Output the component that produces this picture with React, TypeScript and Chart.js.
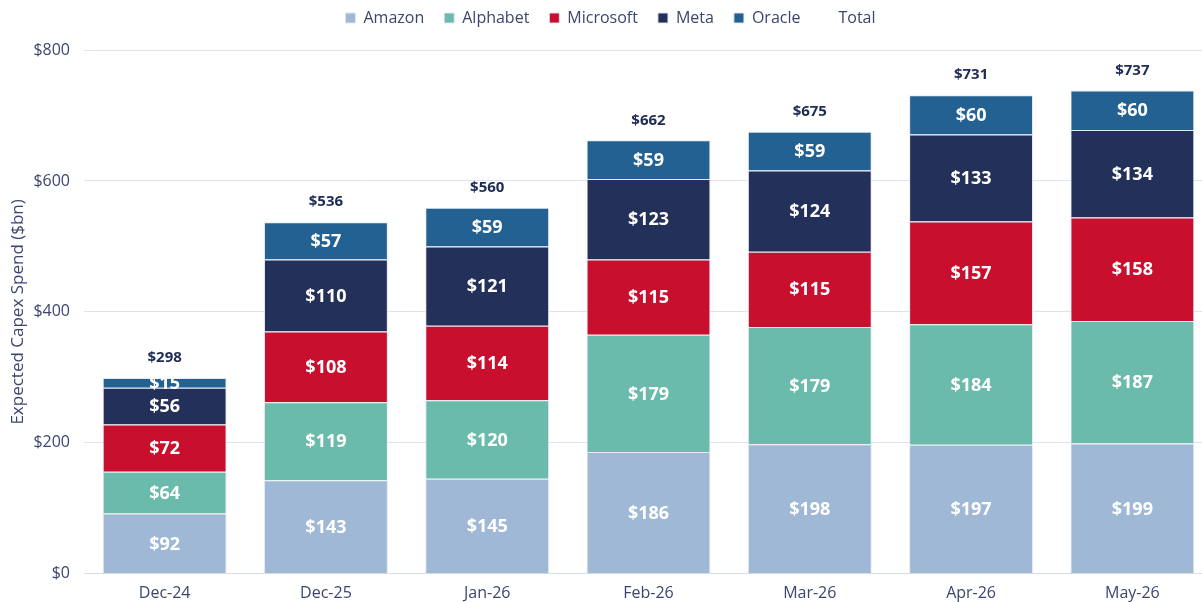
import React, { useEffect, useRef } from "react";
import { Chart, registerables } from "chart.js";

Chart.register(...registerables);

const categories = ["Dec-24", "Dec-25", "Jan-26", "Feb-26", "Mar-26", "Apr-26", "May-26"];
const amazon = [92, 143, 145, 186, 198, 197, 199];
const alphabet = [64, 119, 120, 179, 179, 184, 187];
const microsoft = [72, 108, 114, 115, 115, 157, 158];
const meta = [56, 110, 121, 123, 124, 133, 134];
const oracle = [15, 57, 59, 59, 59, 60, 60];
const totals = [298, 536, 560, 662, 675, 731, 737];
const yTicks = [0, 200, 400, 600, 800];

const FONT = "'Open Sans', sans-serif";
const TEXT = "#3b4670";

const labelPlugin = {
  id: "barLabels",
  afterDatasetsDraw(chart: any) {
    const ctx = chart.ctx;
    ctx.save();
    ctx.textAlign = "center";
    ctx.textBaseline = "middle";
    chart.data.datasets.forEach((ds: any, di: number) => {
      if (ds.label === "Total") return;
      const meta = chart.getDatasetMeta(di);
      meta.data.forEach((el: any, i: number) => {
        const v = ds.data[i];
        const y = (el.y + el.base) / 2;
        ctx.font = `bold 18px ${FONT}`;
        ctx.fillStyle = "#ffffff";
        ctx.fillText("$" + v, el.x, y + 1);
      });
    });
    const topIdx = chart.data.datasets.findIndex((d: any) => d.label === "Oracle");
    const topMeta = chart.getDatasetMeta(topIdx);
    const tIdx = chart.data.datasets.findIndex((d: any) => d.label === "Total");
    const tds = chart.data.datasets[tIdx];
    topMeta.data.forEach((el: any, i: number) => {
      ctx.font = `bold 15px ${FONT}`;
      ctx.fillStyle = "#1f2a55";
      ctx.fillText("$" + tds.data[i], el.x, el.y - 20);
    });
    ctx.restore();
  },
};

const legendMargin = {
  id: "legendMargin",
  beforeUpdate(chart: any) {
    const lg = chart.legend;
    if (lg && !lg._patched) {
      const orig = lg.fit;
      lg.fit = function () {
        orig.call(this);
        this.height += 14;
      };
      lg._patched = true;
    }
  },
};

export default function App() {
  const ref = useRef<HTMLCanvasElement | null>(null);
  useEffect(() => {
    document.body.style.margin = "0";
    const mk = (label: string, data: number[], color: string) => ({
      type: "bar" as const,
      label,
      data,
      backgroundColor: color,
      borderColor: "rgba(225,230,240,0.9)",
      borderWidth: 1,
      stack: "s",
      categoryPercentage: 0.768,
      barPercentage: 1,
    });
    const chart = new Chart(ref.current as HTMLCanvasElement, {
      type: "bar",
      data: {
        labels: categories,
        datasets: [
          mk("Amazon", amazon, "#9fb8d6"),
          mk("Alphabet", alphabet, "#6bbbad"),
          mk("Microsoft", microsoft, "#c8102e"),
          mk("Meta", meta, "#22305a"),
          mk("Oracle", oracle, "#236192"),
          {
            type: "line" as const,
            label: "Total",
            data: totals,
            showLine: false,
            pointRadius: 0,
            borderColor: "rgba(0,0,0,0)",
            backgroundColor: "rgba(0,0,0,0)",
            borderWidth: 0,
          } as any,
        ],
      },
      options: {
        animation: false,
        responsive: true,
        maintainAspectRatio: false,
        layout: { padding: { left: 8, right: 2, top: -10, bottom: -11 } },
        plugins: {
          legend: {
            position: "top",
            labels: {
              font: { family: FONT, size: 16 },
              color: TEXT,
              boxWidth: 10,
              boxHeight: 10,
              padding: 20,
            },
          },
          tooltip: { enabled: false },
        },
        scales: {
          x: {
            stacked: true,
            grid: { display: false, drawTicks: false },
            border: { color: "#d5dcec" },
            ticks: { font: { family: FONT, size: 16 }, color: TEXT, padding: 10 },
          },
          y: {
            stacked: true,
            min: 0,
            max: 800,
            afterBuildTicks: (s: any) => {
              s.ticks = yTicks.map((v) => ({ value: v }));
            },
            afterFit: (s: any) => {
              s.width = 76;
            },
            grid: { color: "#dde3f0", drawTicks: false },
            border: { display: false },
            ticks: {
              font: { family: FONT, size: 16 },
              color: TEXT,
              padding: 14,
              callback: (v: any) => "$" + v,
            },
            title: {
              display: true,
              text: "Expected Capex Spend ($bn)",
              font: { family: FONT, size: 17 },
              color: TEXT,
              padding: 0,
            },
          },
        },
      },
      plugins: [labelPlugin, legendMargin],
    });
    return () => chart.destroy();
  }, []);
  return (
    <div style={{ width: 1202, height: 602, overflow: "hidden" }}>
      <div style={{ width: 1215, height: 602, position: "relative" }}>
        <canvas ref={ref} />
      </div>
    </div>
  );
}
